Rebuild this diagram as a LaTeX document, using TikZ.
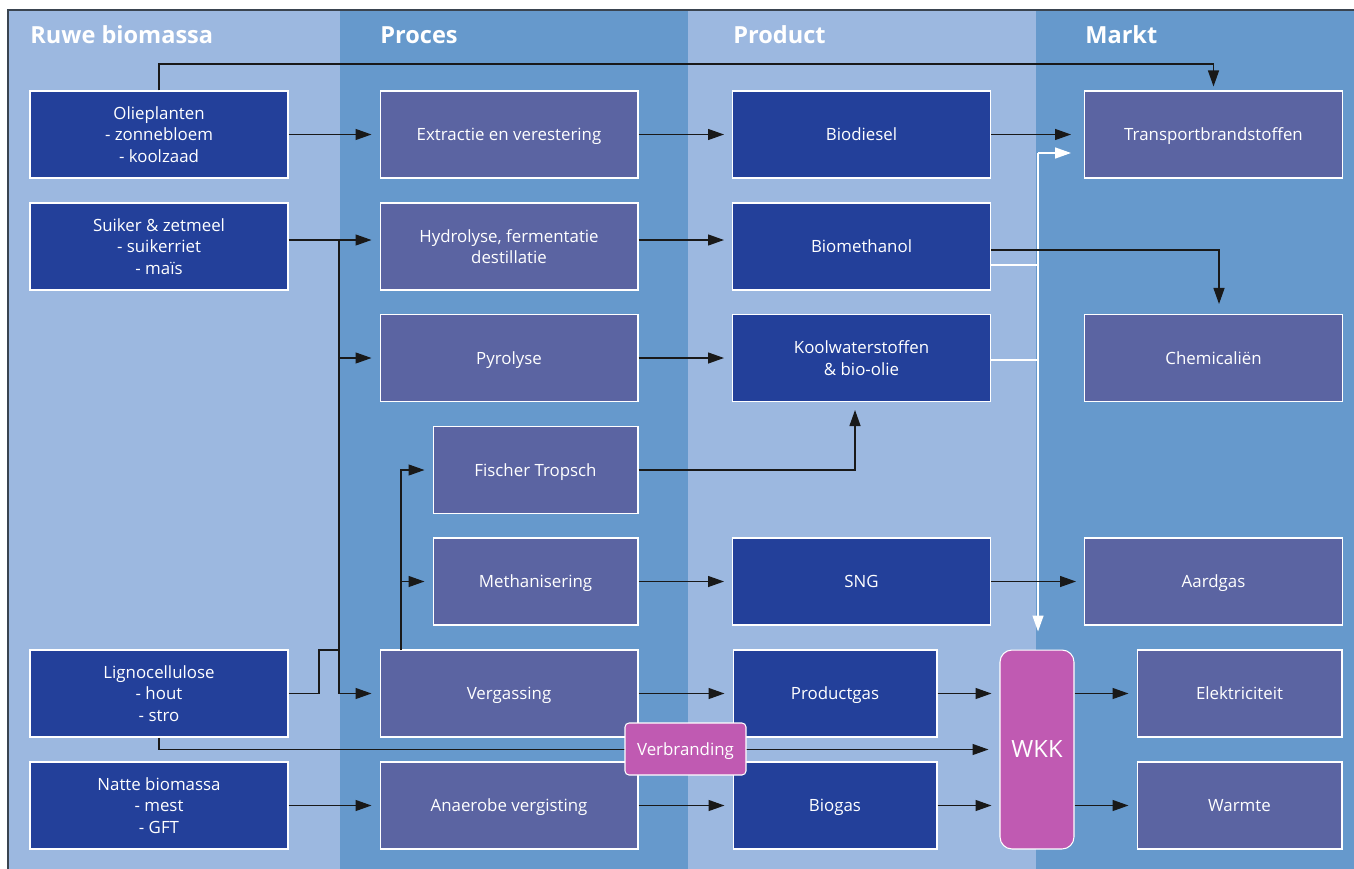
\documentclass[tikz,border=0pt]{standalone}
\usepackage{fontspec}
\setmainfont{Open Sans}
\usetikzlibrary{arrows.meta, positioning, calc}
\definecolor{paneLight}{RGB}{156,184,224}
\definecolor{paneDark}{RGB}{102,153,204}
\definecolor{rawblue}{RGB}{35,64,154}
\definecolor{procviolet}{RGB}{91,100,162}
\definecolor{wkkpink}{RGB}{192,90,178}
\definecolor{framegray}{RGB}{58,68,80}

\begin{document}
\begin{tikzpicture}[x=0.02cm, y=-0.02cm,
  bx/.style={draw=white, line width=0.6pt, text=white, align=center, inner sep=0pt, font=\fontsize{9.6}{12.2}\selectfont},
  one/.style={text height=6.9pt, text depth=0pt},
  rawbox/.style={bx, fill=rawblue, minimum width=5.16cm, minimum height=1.74cm},
  procbox/.style={bx, fill=procviolet, minimum width=5.16cm, minimum height=1.74cm},
  headtxt/.style={anchor=west, inner sep=0pt, text=white, font=\fontsize{13.4}{16}\selectfont\bfseries},
  arr/.style={-{Triangle[length=0.32cm, width=0.22cm]}, line width=0.7pt, black!90, shorten >=0.16cm},
  warr/.style={-{Triangle[length=0.32cm, width=0.22cm]}, line width=0.8pt, white, shorten >=0.16cm},
  wline/.style={line width=0.8pt, white},
]
  \useasboundingbox (0,0) rectangle (1354,868);
  \fill[paneLight] (8,10) rectangle (340,880);
  \fill[paneDark] (340,10) rectangle (688,880);
  \fill[paneLight] (688,10) rectangle (1036,880);
  \fill[paneDark] (1036,10) rectangle (1366,880);
  \draw[framegray, line width=1.2pt] (8,880) -- (8,10) -- (1366,10);

  \node[headtxt] (hRaw) at (30,35) {Ruwe biomassa};
  \node[headtxt] (hProc) at (380,35) {Proces};
  \node[headtxt] (hProd) at (733,35) {Product};
  \node[headtxt] (hMkt) at (1085,35) {Markt};

  % ruwe biomassa
  \node[rawbox] (olie) at (159,134.5) {Olieplanten\\- zonnebloem\\- koolzaad};
  \node[rawbox] (suiker) at (159,246.5) {Suiker \& zetmeel\\- suikerriet\\- maïs};
  \node[rawbox] (ligno) at (159,693.5) {Lignocellulose\\- hout\\- stro};
  \node[rawbox] (natte) at (159,805.5) {Natte biomassa\\- mest\\- GFT};

  % proces
  \node[procbox, one] (extr) at (509,134.5) {Extractie en verestering};
  \node[procbox] (hydro) at (509,246.5) {Hydrolyse, fermentatie\\destillatie};
  \node[procbox, one] (pyro) at (509,358) {Pyrolyse};
  \node[procbox, one, minimum width=4.1cm] (fischer) at (535.5,470) {Fischer Tropsch};
  \node[procbox, one, minimum width=4.1cm] (meth) at (535.5,581.5) {Methanisering};
  \node[procbox, one] (verg) at (509,693.5) {Vergassing};
  \node[procbox, one] (anaer) at (509,805.5) {Anaerobe vergisting};

  % product
  \node[rawbox, one] (biodsl) at (861.5,134.5) {Biodiesel};
  \node[rawbox, one] (biometh) at (861.5,246.5) {Biomethanol};
  \node[rawbox] (koolw) at (861.5,358) {Koolwaterstoffen\\\& bio-olie};
  \node[rawbox, one] (sng) at (861.5,581.5) {SNG};
  \node[rawbox, one, minimum width=4.08cm] (pgas) at (835,693.5) {Productgas};
  \node[rawbox, one, minimum width=4.08cm] (biogas) at (835,805.5) {Biogas};
  \node[bx, fill=wkkpink, rounded corners=0.24cm, minimum width=1.48cm, minimum height=3.98cm,
    font=\fontsize{13.5}{15}\selectfont, text height=9.6pt, text depth=0pt] (wkk) at (1037,749.5) {WKK};

  % markt
  \node[procbox, one] (mTrans) at (1213.5,134.5) {Transportbrandstoffen};
  \node[procbox, one] (mChem) at (1213.5,358) {Chemicaliën};
  \node[procbox, one] (mGas) at (1213.5,581.5) {Aardgas};
  \node[procbox, one, minimum width=4.1cm] (mElek) at (1239.5,693.5) {Elektriciteit};
  \node[procbox, one, minimum width=4.1cm] (mWarm) at (1239.5,805.5) {Warmte};

  \coordinate (trunk) at (339,240);
  \coordinate (lgStep) at (319,650);
  \coordinate (vgRise) at (401,650);
  \coordinate (topRun) at (700,64);
  \coordinate (heatJoin) at (1038,153);

  % witte lijnen naar WKK / transport
  \draw[wline] ([yshift=-0.37cm]biometh.east) -| (heatJoin);
  \draw[wline] ([yshift=-0.04cm]koolw.east) -| (heatJoin);
  \draw[warr, shorten >=0.36cm] (heatJoin) -- (heatJoin |- wkk.north);
  \draw[warr, shorten >=0.26cm] (heatJoin) -- (heatJoin -| mTrans.west);

  % ruwe biomassa -> proces
  \draw[arr] ([yshift=0.13cm]suiker.east) -- ([yshift=0.13cm]hydro.west);
  \draw[arr] (trunk) |- (verg.west);
  \draw[arr] (trunk |- pyro.west) -- (pyro.west);
  \draw[line width=0.7pt, black!90] (ligno.east) -| (lgStep) -- (trunk |- lgStep);
  \draw[arr] (olie) -- (extr);
  \draw[arr] (natte) -- (anaer);
  \draw[arr, shorten >=0.08cm] (olie.north) |- (topRun) -| (mTrans.north);

  % proces -> product
  \draw[arr] (extr) -- (biodsl);
  \draw[arr] ([yshift=0.13cm]hydro.east) -- ([yshift=0.13cm]biometh.west);
  \draw[arr] (pyro) -- (koolw);
  \draw[arr] (vgRise) |- (fischer.west);
  \draw[arr] (vgRise |- meth.west) -- (meth.west);
  \draw[arr] (fischer.east) -| ([xshift=-0.13cm]koolw.south);
  \draw[arr] (meth) -- (sng);
  \draw[arr] (verg) -- (pgas);
  \draw[arr] (anaer) -- (biogas);

  % product -> markt
  \draw[arr, shorten >=0.26cm] (biodsl) -- (mTrans);
  \draw[arr, shorten >=0.2cm] ([yshift=-0.07cm]biometh.east) -| ([xshift=0.11cm]mChem.north);
  \draw[arr] (sng) -- (mGas);
  \draw[arr] (pgas.east) -- (pgas.east -| wkk.west);
  \draw[arr] (biogas.east) -- (biogas.east -| wkk.west);
  \draw[arr, shorten >=0.22cm] (ligno.south) |- (wkk.west);
  \draw[arr] (wkk.east |- mElek.west) -- (mElek.west);
  \draw[arr] (wkk.east |- mWarm.west) -- (mWarm.west);

  \node[bx, one, fill=wkkpink, rounded corners=0.08cm, minimum width=2.42cm, minimum height=1.04cm] (verbr) at (685.5,749) {Verbranding};
\end{tikzpicture}
\end{document}
